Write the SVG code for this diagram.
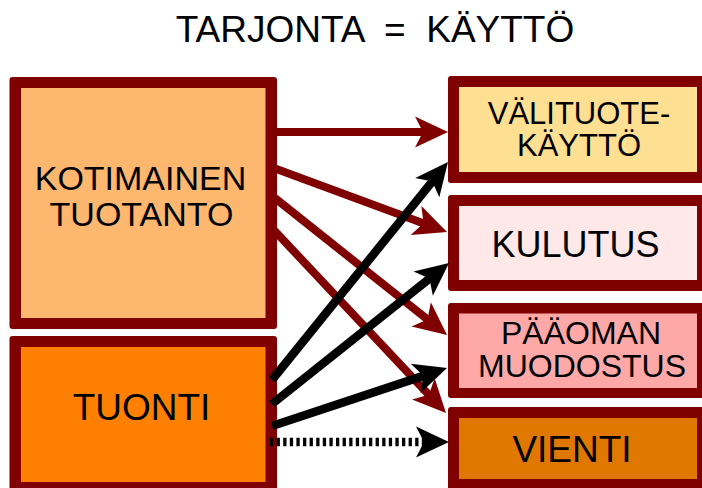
<svg xmlns="http://www.w3.org/2000/svg" width="702" height="488" viewBox="0 0 702 488">
<style>
text{font-family:"Liberation Sans",Arial,sans-serif;fill:#000;text-anchor:middle}
.bd{fill:#800000}
.red{stroke:#800000;stroke-width:8;fill:none;marker-end:url(#ar)}
.blk{stroke:#000;stroke-width:8.5;fill:none;marker-end:url(#ab)}
.dot{stroke-dasharray:3.3 3.3}
</style>
<defs>
<marker id="ar" markerUnits="userSpaceOnUse" viewBox="0 0 34 32" markerWidth="34" markerHeight="32" refX="13" refY="16" orient="auto"><path d="M34,16 L1,0.5 L9,16 L1,31.5 Z" fill="#800000"/></marker>
<marker id="ab" markerUnits="userSpaceOnUse" viewBox="0 0 34 32" markerWidth="34" markerHeight="32" refX="13" refY="16" orient="auto"><path d="M34,16 L1,0.5 L9,16 L1,31.5 Z" fill="#000"/></marker>
</defs>
<rect width="702" height="488" fill="#fff"/>
<text x="375" y="42" font-size="37" xml:space="preserve">TARJONTA  =  KÄYTTÖ</text>
<g id="kotimainen">
<rect class="bd" x="9.5" y="77" width="267.5" height="252" rx="3"/>
<rect x="21" y="88" width="244.5" height="230" fill="#FDB76F"/>
<text x="140.5" y="190" font-size="34">KOTIMAINEN</text>
<text x="141.5" y="226" font-size="34">TUOTANTO</text>
</g>
<g id="tuonti">
<rect class="bd" x="9.5" y="336" width="267.5" height="160" rx="3"/>
<rect x="21" y="347" width="244.5" height="135" fill="#FF8000"/>
<text x="141.5" y="420" font-size="37">TUONTI</text>
</g>
<g id="valituote">
<rect class="bd" x="448" y="76" width="262" height="107" rx="3"/>
<rect x="459" y="87" width="238" height="85" fill="#FFDF91"/>
<text x="579" y="124" font-size="31">VÄLITUOTE-</text>
<text x="579" y="156" font-size="31">KÄYTTÖ</text>
</g>
<g id="kulutus">
<rect class="bd" x="448" y="195" width="262" height="96" rx="3"/>
<rect x="459" y="206" width="238" height="74" fill="#FFE8E8"/>
<text x="575.5" y="257" font-size="36">KULUTUS</text>
</g>
<g id="paaoman">
<rect class="bd" x="448" y="303" width="262" height="95" rx="3"/>
<rect x="459" y="313.5" width="238" height="74.5" fill="#FFA8A8"/>
<text x="581" y="344" font-size="32">PÄÄOMAN</text>
<text x="582" y="377" font-size="32">MUODOSTUS</text>
</g>
<g id="vienti">
<rect class="bd" x="448" y="407" width="262" height="90" rx="3"/>
<rect x="459" y="418" width="238" height="61" fill="#E07800"/>
<text x="572" y="462" font-size="37">VIENTI</text>
</g>
<g id="connectors">
<line class="red" x1="271" y1="132" x2="427" y2="132"/>
<line class="red" x1="271" y1="167" x2="427.3" y2="224.7"/>
<line class="red" x1="271" y1="195" x2="430.6" y2="321.9"/>
<line class="red" x1="271" y1="227" x2="431.6" y2="397.7"/>
<line class="blk" x1="272" y1="380" x2="434.8" y2="178.3"/>
<line class="blk" x1="272" y1="404" x2="432.6" y2="276.1"/>
<line class="blk" x1="272" y1="426" x2="427.1" y2="374.6"/>
<line class="blk dot" x1="270" y1="442" x2="428" y2="442"/>
</g>
</svg>
